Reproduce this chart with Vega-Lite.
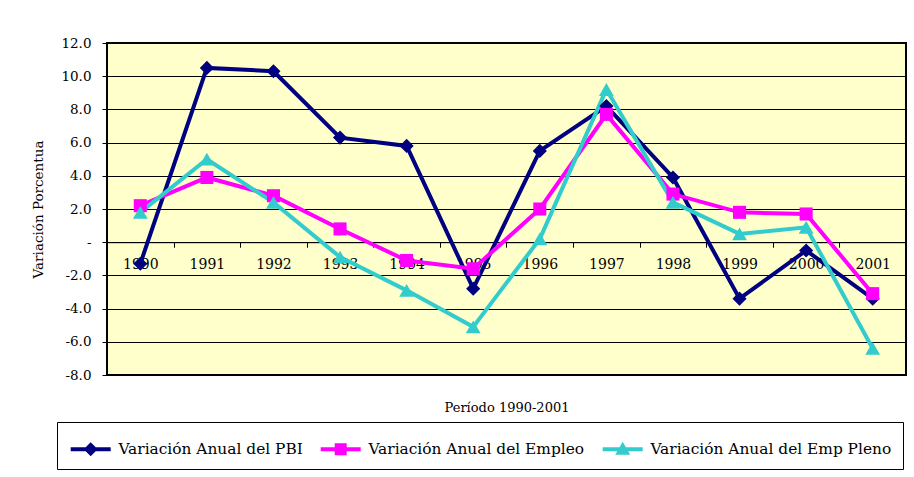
{
  "$schema": "https://vega.github.io/schema/vega-lite/v6.json",
  "width": 799,
  "height": 332,
  "autosize": {"type": "none"},
  "padding": {"left": 107, "top": 43, "right": 8, "bottom": 102},
  "background": "white",
  "config": {
    "view": {"fill": "#FFFFCC", "stroke": "black", "strokeWidth": 2},
    "font": "DejaVu Serif"
  },
  "data": {
    "values": [
      {"year": "1990", "serie": "Variación Anual del PBI", "valor": -1.3},
      {"year": "1991", "serie": "Variación Anual del PBI", "valor": 10.5},
      {"year": "1992", "serie": "Variación Anual del PBI", "valor": 10.3},
      {"year": "1993", "serie": "Variación Anual del PBI", "valor": 6.3},
      {"year": "1994", "serie": "Variación Anual del PBI", "valor": 5.8},
      {"year": "1995", "serie": "Variación Anual del PBI", "valor": -2.8},
      {"year": "1996", "serie": "Variación Anual del PBI", "valor": 5.5},
      {"year": "1997", "serie": "Variación Anual del PBI", "valor": 8.2},
      {"year": "1998", "serie": "Variación Anual del PBI", "valor": 3.9},
      {"year": "1999", "serie": "Variación Anual del PBI", "valor": -3.4},
      {"year": "2000", "serie": "Variación Anual del PBI", "valor": -0.5},
      {"year": "2001", "serie": "Variación Anual del PBI", "valor": -3.4},
      {"year": "1990", "serie": "Variación Anual del Empleo", "valor": 2.2},
      {"year": "1991", "serie": "Variación Anual del Empleo", "valor": 3.9},
      {"year": "1992", "serie": "Variación Anual del Empleo", "valor": 2.8},
      {"year": "1993", "serie": "Variación Anual del Empleo", "valor": 0.8},
      {"year": "1994", "serie": "Variación Anual del Empleo", "valor": -1.1},
      {"year": "1995", "serie": "Variación Anual del Empleo", "valor": -1.6},
      {"year": "1996", "serie": "Variación Anual del Empleo", "valor": 2.0},
      {"year": "1997", "serie": "Variación Anual del Empleo", "valor": 7.7},
      {"year": "1998", "serie": "Variación Anual del Empleo", "valor": 2.9},
      {"year": "1999", "serie": "Variación Anual del Empleo", "valor": 1.8},
      {"year": "2000", "serie": "Variación Anual del Empleo", "valor": 1.7},
      {"year": "2001", "serie": "Variación Anual del Empleo", "valor": -3.1},
      {"year": "1990", "serie": "Variación Anual del Emp Pleno", "valor": 1.8},
      {"year": "1991", "serie": "Variación Anual del Emp Pleno", "valor": 5.0},
      {"year": "1992", "serie": "Variación Anual del Emp Pleno", "valor": 2.4},
      {"year": "1993", "serie": "Variación Anual del Emp Pleno", "valor": -0.9},
      {"year": "1994", "serie": "Variación Anual del Emp Pleno", "valor": -2.9},
      {"year": "1995", "serie": "Variación Anual del Emp Pleno", "valor": -5.1},
      {"year": "1996", "serie": "Variación Anual del Emp Pleno", "valor": 0.2},
      {"year": "1997", "serie": "Variación Anual del Emp Pleno", "valor": 9.2},
      {"year": "1998", "serie": "Variación Anual del Emp Pleno", "valor": 2.4},
      {"year": "1999", "serie": "Variación Anual del Emp Pleno", "valor": 0.5},
      {"year": "2000", "serie": "Variación Anual del Emp Pleno", "valor": 0.9},
      {"year": "2001", "serie": "Variación Anual del Emp Pleno", "valor": -6.4}
    ]
  },
  "encoding": {
    "x": {
      "field": "year",
      "type": "ordinal",
      "bandPosition": 0.5,
      "scale": {"type": "band", "paddingInner": 0, "paddingOuter": 0},
      "axis": {
        "title": "Período 1990-2001",
        "titleFontSize": 13,
        "titleFontWeight": "normal",
        "titleColor": "black",
        "titleBaseline": "middle",
        "titleY": 164.8,
        "offset": -132.8,
        "labelAngle": 0,
        "labelFontSize": 14,
        "labelColor": "black",
        "labelPadding": 10,
        "tickBand": "extent",
        "tickSize": 5,
        "tickColor": "black",
        "domainColor": "black",
        "domainWidth": 1,
        "grid": false
      }
    },
    "y": {
      "field": "valor",
      "type": "quantitative",
      "scale": {"domain": [-8, 12], "nice": false, "zero": false},
      "axis": {
        "title": "Variación Porcentua",
        "titleFontSize": 13.5,
        "titleFontWeight": "normal",
        "titleColor": "black",
        "titlePadding": 15,
        "values": [-8, -6, -4, -2, 0, 2, 4, 6, 8, 10, 12],
        "labelExpr": "datum.value == 0 ? '-' : replace(format(datum.value, '.1f'), '\u2212', '-')",
        "labelFontSize": 13.5,
        "labelColor": "black",
        "labelPadding": 11,
        "tickSize": 5,
        "tickColor": "black",
        "domainColor": "black",
        "grid": true,
        "gridColor": "black",
        "gridWidth": 1,
        "gridOpacity": 1
      }
    }
  },
  "layer": [
    {
      "mark": {"type": "line", "strokeWidth": 4},
      "encoding": {
        "color": {
          "field": "serie",
          "type": "nominal",
          "scale": {
            "domain": ["Variación Anual del PBI", "Variación Anual del Empleo", "Variación Anual del Emp Pleno"],
            "range": ["#000080", "#FF00FF", "#33CCCC"]
          },
          "legend": {
            "title": " ",
            "titleFontSize": 6,
            "titlePadding": 2,
            "orient": "none",
            "direction": "horizontal",
            "columns": 3,
            "legendX": -50,
            "legendY": 379,
            "padding": 11,
            "strokeColor": "black",
            "fillColor": "white",
            "columnPadding": 15,
            "labelFontSize": 15.4,
            "labelColor": "black",
            "labelLimit": 400,
            "labelOffset": 35,
            "symbolSize": 100,
            "encode": {
              "symbols": {
                "update": {
                  "shape": {"signal": "datum.value == 'Variación Anual del PBI' ? 'M-1,-0.4H7V0.4H-1ZM3,-1.4L4.4,0L3,1.4L1.6,0Z' : datum.value == 'Variación Anual del Empleo' ? 'M-1,-0.4H7V0.4H-1ZM1.8,-1.2H4.2V1.2H1.8Z' : 'M-1,-0.4H7V0.4H-1ZM3,-1.5L4.5,1.1H1.5Z'"},
                  "fill": {"scale": "color", "field": "value"},
                  "stroke": {"value": "transparent"},
                  "strokeWidth": {"value": 0},
                  "opacity": {"value": 1}
                }
              }
            }
          }
        }
      }
    },
    {
      "transform": [{"filter": "datum.serie == 'Variación Anual del PBI'"}],
      "mark": {"type": "point", "shape": "diamond", "filled": true, "opacity": 1, "size": 200},
      "encoding": {"color": {"field": "serie", "type": "nominal", "legend": null}}
    },
    {
      "transform": [{"filter": "datum.serie == 'Variación Anual del Empleo'"}],
      "mark": {"type": "point", "shape": "square", "filled": true, "opacity": 1, "size": 170},
      "encoding": {"color": {"field": "serie", "type": "nominal", "legend": null}}
    },
    {
      "transform": [{"filter": "datum.serie == 'Variación Anual del Emp Pleno'"}],
      "mark": {"type": "point", "shape": "triangle-up", "filled": true, "opacity": 1, "size": 220},
      "encoding": {"color": {"field": "serie", "type": "nominal", "legend": null}}
    }
  ]
}
